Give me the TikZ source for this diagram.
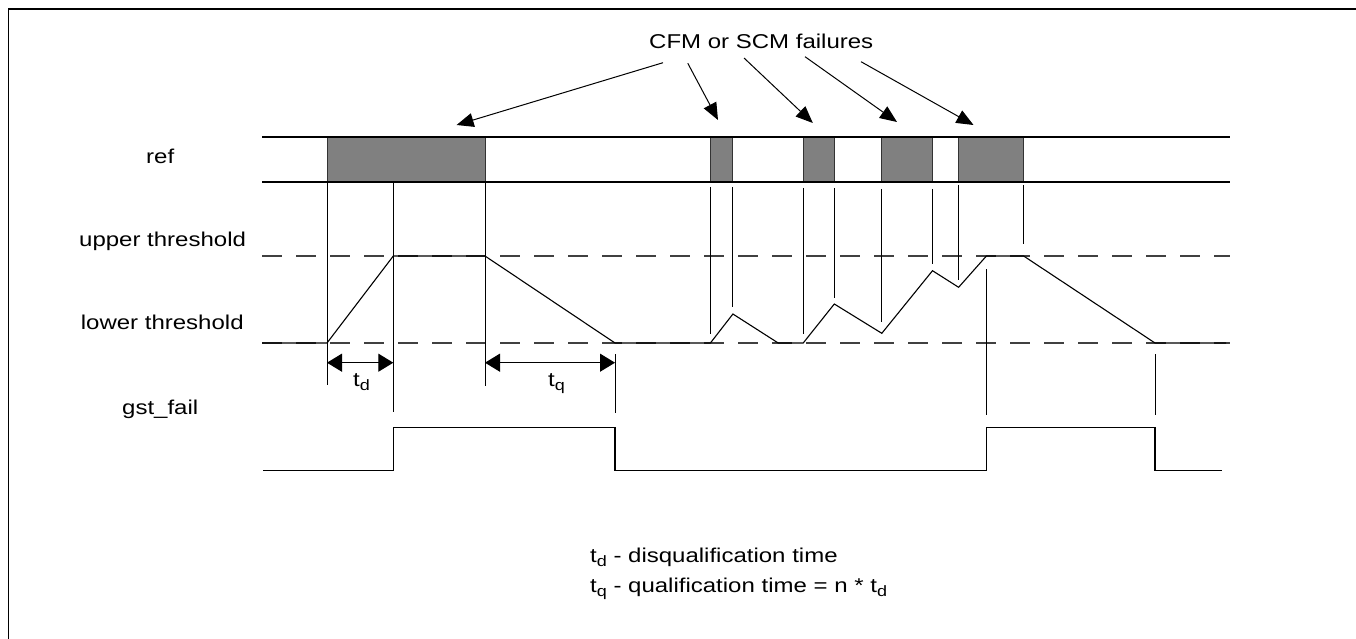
\documentclass[tikz,border=0pt]{standalone}
\usepackage{fontspec}
\setmainfont{Liberation Sans}[FakeStretch=1.2]
\usetikzlibrary{arrows.meta}
\newcommand\tsub[1]{t\raisebox{-4pt}{\fontsize{15}{15}\selectfont #1}}
\begin{document}
\begin{tikzpicture}[x=1pt,y=-1pt,
  lbl/.style={anchor=base west,inner sep=0pt,font=\fontsize{20}{24}\selectfont},
  sig/.style={line width=1.1pt,black},
  vline/.style={line width=1pt,black},
  thr/.style={line width=1.1pt,black!75,dash pattern=on 20pt off 14pt},
  failbox/.style={draw=black!80,line width=1pt,fill=black!50},
  callout/.style={line width=1pt,-{Triangle[length=17pt,width=14pt]}},
  span/.style={line width=1.2pt,{Triangle[length=15pt,width=18pt]}-{Triangle[length=15pt,width=18pt]}}]
\useasboundingbox (0,0) rectangle (1356,639);
% frame (top and left only)
\draw[line width=1.3pt] (8.3,639) -- (8.3,9) -- (1356,9);
% labels
\node[lbl] (lref) at (146,164) {ref};
\node[lbl] (lup) at (79,246) {upper threshold};
\node[lbl] (llow) at (80.7,329) {lower threshold};
\node[lbl] (lgst) at (122,414) {gst\_fail};
\node[lbl] (title) at (649,48.3) {CFM or SCM failures};
% ref row
\draw[failbox] (327,137) rectangle (485,182);
\draw[failbox] (710.4,137) rectangle (732.9,182);
\draw[failbox] (803.2,137) rectangle (834.3,182);
\draw[failbox] (881.8,137) rectangle (932.5,182);
\draw[failbox] (958.6,137) rectangle (1023.6,182);
\draw[line width=1.3pt] (262,137) -- (1230,137);
\draw[line width=1.3pt] (262,182) -- (1230,182);
% callout arrows
\coordinate (s1) at (663,62.7);  \coordinate (t1) at (456.6,125);
\coordinate (s2) at (687.8,63.3); \coordinate (t2) at (718,120);
\coordinate (s3) at (744,58);    \coordinate (t3) at (812.8,123);
\coordinate (s4) at (805,56.7);  \coordinate (t4) at (897,122);
\coordinate (s5) at (861,61.7);  \coordinate (t5) at (973.5,125);
\foreach \i in {1,...,5} \draw[callout] (s\i) -- (t\i);
% thresholds
\draw[thr] (262,256) -- (1230,256);
\draw[thr] (262,343) -- (1230,343);
% vertical markers
\draw[vline] (327,182) -- (327,385);
\draw[vline] (393.3,182) -- (393.3,412);
\draw[vline] (485,182) -- (485,386);
\draw[vline] (615,354) -- (615,413);
\draw[vline] (710.4,187) -- (710.4,334);
\draw[vline] (732.9,187) -- (732.9,307);
\draw[vline] (803.2,188) -- (803.2,334);
\draw[vline] (834.3,188) -- (834.3,298);
\draw[vline] (881.8,189) -- (881.8,322);
\draw[vline] (932.5,189) -- (932.5,264);
\draw[vline] (958.6,185) -- (958.6,280);
\draw[vline] (1023.6,185) -- (1023.6,244);
\draw[vline] (986.4,269) -- (986.4,415);
\draw[vline] (1155,354) -- (1155,415);
% counter waveform
\draw[sig,line join=miter] (262,343) -- (327,343) -- (393.3,256) -- (485,256) -- (615,343)
  -- (710.4,343) -- (732.9,314) -- (778.2,343) -- (803.2,343) -- (834.3,304)
  -- (881.8,333.3) -- (932.5,270.7) -- (958.6,287.3) -- (986.4,256) -- (1023.6,256)
  -- (1155,343) -- (1226,343);
% time spans
\coordinate (d1) at (327,362.7); \coordinate (d2) at (393.3,362.7);
\coordinate (q1) at (485,362.7); \coordinate (q2) at (615,362.7);
\draw[span] (d1) -- (d2);
\draw[span] (q1) -- (q2);
\node[lbl] (ltd) at (353,386) {\tsub{d}};
\node[lbl] (ltq) at (548,386.7) {\tsub{q}};
% gst_fail
\draw[sig] (263,470.7) -- (393.3,470.7) -- (393.3,427.3) -- (615,427.3) -- (615,470.7)
  -- (986.4,470.7) -- (986.4,427.3) -- (1155,427.3) -- (1155,470.7) -- (1222,470.7);
% legend
\node[lbl] (leg1) at (590,562) {\tsub{d} - disqualification time};
\node[lbl] (leg2) at (590,592) {\tsub{q} - qualification time = n * \tsub{d}};
\end{tikzpicture}
\end{document}
